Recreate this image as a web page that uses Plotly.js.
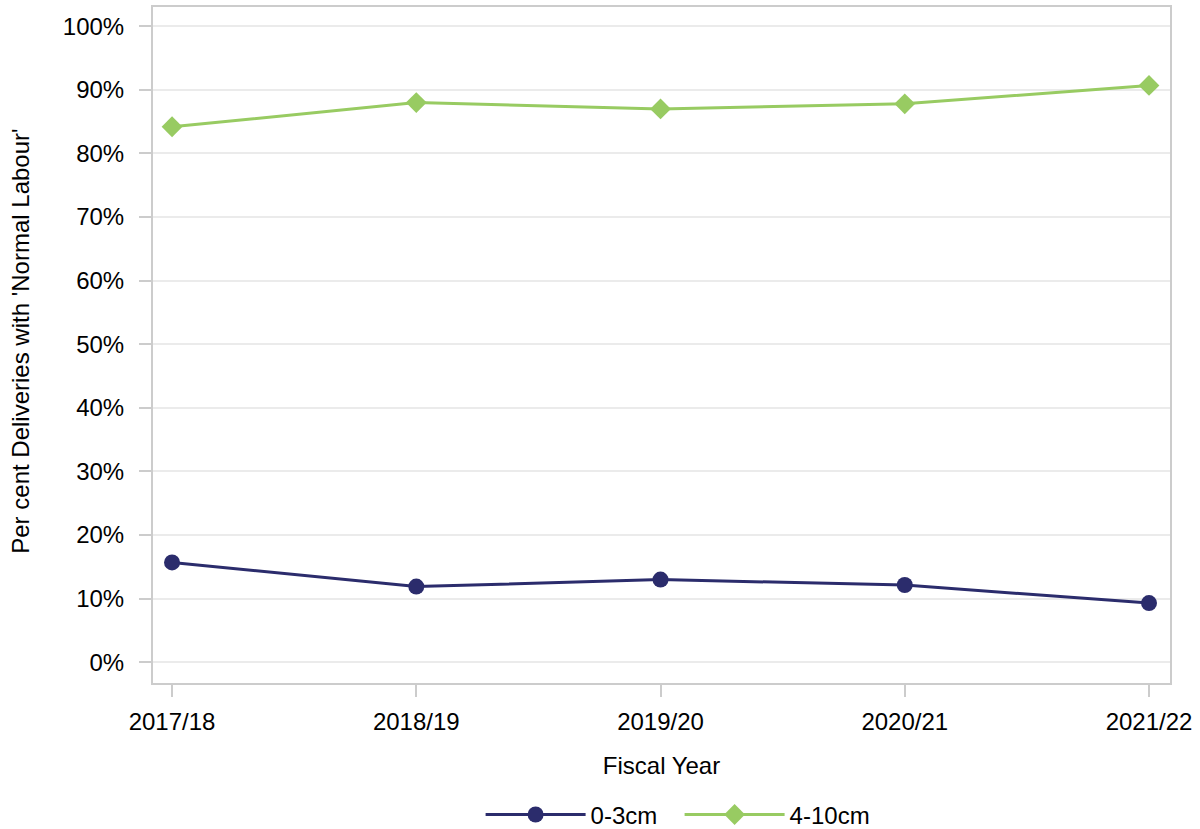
<!DOCTYPE html>
<html>
<head>
<meta charset="utf-8">
<script src="https://cdn.plot.ly/plotly-3.0.1.min.js"></script>
<style>html,body{margin:0;padding:0;background:#fff;}#chart{width:1200px;height:829px;}</style>
</head>
<body>
<div id="chart"></div>
<script>
const years = ['2017/18', '2018/19', '2019/20', '2020/21', '2021/22'];
const small = [15.7, 11.9, 13.0, 12.15, 9.3];   // 0-3cm
const large = [84.2, 88.0, 87.0, 87.8, 90.7];   // 4-10cm
const yTicks = [0, 10, 20, 30, 40, 50, 60, 70, 80, 90, 100];
const yTitle = "Per cent Deliveries with 'Normal Labour'";
const xTitle = 'Fiscal Year';

const FONT = 'Liberation Sans, Arial, sans-serif';
const FS = 24;

const traces = [
  {
    x: years, y: small, name: '0-3cm', type: 'scatter', mode: 'lines+markers',
    line: {color: '#2b2c6c', width: 3},
    marker: {symbol: 'circle', size: 16, color: '#2b2c6c'}
  },
  {
    x: years, y: large, name: '4-10cm', type: 'scatter', mode: 'lines+markers',
    line: {color: '#98cb62', width: 3},
    marker: {symbol: 'diamond', size: 16, color: '#98cb62'}
  }
];

const layout = {
  width: 1200, height: 829,
  margin: {l: 153, r: 30, t: 7, b: 146, autoexpand: false},
  paper_bgcolor: '#ffffff', plot_bgcolor: '#ffffff',
  font: {family: FONT, size: FS, color: '#000000'},
  showlegend: true,
  legend: {
    orientation: 'h', xref: 'container', yref: 'container',
    x: 0.4005, xanchor: 'left', y: 0.017, yanchor: 'middle',
    font: {family: FONT, size: FS, color: '#000'},
    itemwidth: 100, entrywidth: 84, traceorder: 'normal'
  },
  xaxis: {
    type: 'category', range: [-0.078, 4.086],
    showgrid: false, zeroline: false,
    showline: true, linecolor: '#cccccc', linewidth: 2, mirror: true,
    ticks: 'outside', ticklen: 12, tickwidth: 2, tickcolor: '#cccccc',
    ticklabelstandoff: 4,
    tickfont: {family: FONT, size: FS, color: '#000'},
    title: {text: xTitle, font: {family: FONT, size: FS, color: '#000'}, standoff: 23}
  },
  yaxis: {
    range: [-3.26, 103.03],
    tickvals: yTicks, ticktext: yTicks.map(v => v + '%'),
    showgrid: true, gridcolor: '#ebebeb', gridwidth: 2,
    zeroline: false,
    showline: true, linecolor: '#cccccc', linewidth: 2, mirror: true,
    ticks: 'outside', ticklen: 12, tickwidth: 2, tickcolor: '#cccccc',
    ticklabelstandoff: 10,
    tickfont: {family: FONT, size: FS, color: '#000'}
  },
  annotations: [{
    text: yTitle, textangle: -90, showarrow: false,
    xref: 'paper', yref: 'paper', x: -0.13, y: 0.506,
    xanchor: 'center', yanchor: 'middle',
    font: {family: FONT, size: FS, color: '#000'}
  }]
};

Plotly.newPlot('chart', traces, layout, {displayModeBar: false, responsive: false});
</script>
</body>
</html>
